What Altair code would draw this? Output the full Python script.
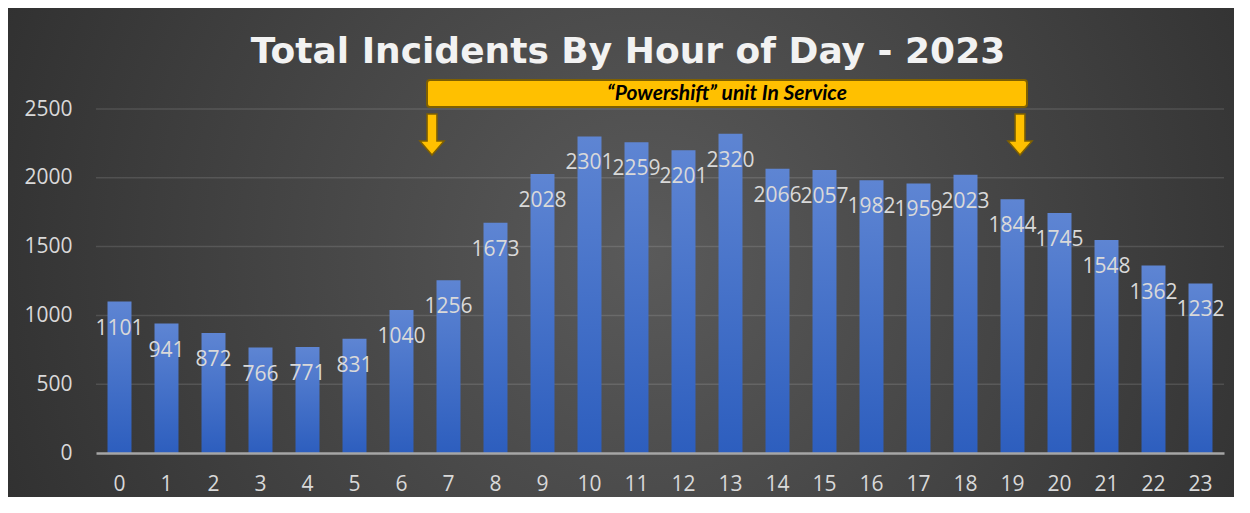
import altair as alt
import pandas as pd

hours = [str(h) for h in range(24)]
incidents = [1101, 941, 872, 766, 771, 831, 1040, 1256, 1673, 2028, 2301, 2259,
             2201, 2320, 2066, 2057, 1982, 1959, 2023, 1844, 1745, 1548, 1362, 1232]
y_ticks = [0, 500, 1000, 1500, 2000, 2500]
title_text = "Total Incidents By Hour of Day - 2023"
banner_text = "\u201cPowershift\u201d unit In Service"

df = pd.DataFrame({"hour": hours, "incidents": incidents})
grid_df = pd.DataFrame({"v": y_ticks[1:]})
one = pd.DataFrame({"k": [0]})

W, H = 1128, 344
PL, PT, PR, PB = 88, 101, 10, 44

x_enc = alt.X(
    "hour:N", sort=None,
    scale=alt.Scale(paddingInner=0.49, paddingOuter=0.245),
    axis=alt.Axis(title=None, labelAngle=0, labelPadding=20, ticks=False,
                  domain=True, domainColor="#a6a6a6", domainWidth=2.5,
                  grid=False, zindex=1),
)
y_enc = alt.Y(
    "incidents:Q",
    scale=alt.Scale(domain=[0, 2500], nice=False),
    axis=alt.Axis(title=None, values=y_ticks, format="d", ticks=False,
                  domain=False, labelPadding=24, grid=False, zindex=1),
)

bg = alt.Chart(one).mark_rect(
    fill=alt.Gradient(
        gradient="radial", x1=0.52, y1=0.5, r1=0, x2=0.52, y2=0.5, r2=0.75,
        stops=[alt.GradientStop(color="#5a5a5a", offset=0),
               alt.GradientStop(color="#3c3c3c", offset=0.55),
               alt.GradientStop(color="#232323", offset=1)],
    )
).encode(x=alt.value(-PL), x2=alt.value(W + PR), y=alt.value(-PT), y2=alt.value(H + PB))

grid = alt.Chart(grid_df).mark_rule(
    color="#ffffff", opacity=0.12, strokeWidth=1.5,
).encode(y=alt.Y("v:Q"), x=alt.value(0), x2=alt.value(W))

bars = alt.Chart(df).mark_bar(
    color=alt.Gradient(
        gradient="linear", x1=0, x2=0, y1=0, y2=1,
        stops=[alt.GradientStop(color="#5e85d3", offset=0),
               alt.GradientStop(color="#2d5ebe", offset=1)],
    )
).encode(x=x_enc, y=y_enc)

labels = alt.Chart(df).mark_text(
    font="Open Sans", fontSize=21, color="#d9d9d9", baseline="middle",
    align="center", dy=27,
).encode(x=alt.X("hour:N", sort=None), y=alt.Y("incidents:Q"), text="incidents:Q")

title = alt.Chart(one).mark_text(
    text=title_text, font="DejaVu Sans", fontWeight="bold", fontSize=36,
    color="#f2f2f2", align="center", baseline="alphabetic",
).encode(x=alt.value(532), y=alt.value(-46))

banner = alt.Chart(one).mark_rect(
    fill="#ffc000", stroke="#7f6000", strokeWidth=2, cornerRadius=3,
).encode(x=alt.value(331), x2=alt.value(931), y=alt.value(-29), y2=alt.value(-2))

banner_label = alt.Chart(one).mark_text(
    text=banner_text, font="Lato", fontWeight="bold", fontStyle="italic",
    fontSize=21, color="#000000", align="center", baseline="middle",
).encode(x=alt.value(631), y=alt.value(-15))

arrow_path = "M-0.24,-1 L0.24,-1 L0.24,0.32 L0.59,0.32 L0,1 L-0.59,0.32 L-0.24,0.32 Z"
arrows_df = pd.DataFrame({"px": [336, 924]})
arrows = alt.Chart(arrows_df).mark_point(
    shape=arrow_path, filled=True, fill="#ffc000", stroke="#7f6000",
    strokeWidth=1.5, opacity=1, size=41 * 41,
).encode(x=alt.X("px:Q", scale=None), y=alt.value(25.5))

chart = alt.layer(bg, grid, bars, labels, title, banner, banner_label, arrows).properties(
    width=W, height=H,
    autosize=alt.AutoSizeParams(type="none"),
    padding={"left": PL, "top": PT, "right": PR, "bottom": PB},
    background="#262626",
).configure_view(stroke=None).configure_axis(
    labelFont="Open Sans", labelFontSize=21, labelColor="#d9d9d9",
)

chart.save("out.html", embed_options={"renderer": "svg", "actions": False})
